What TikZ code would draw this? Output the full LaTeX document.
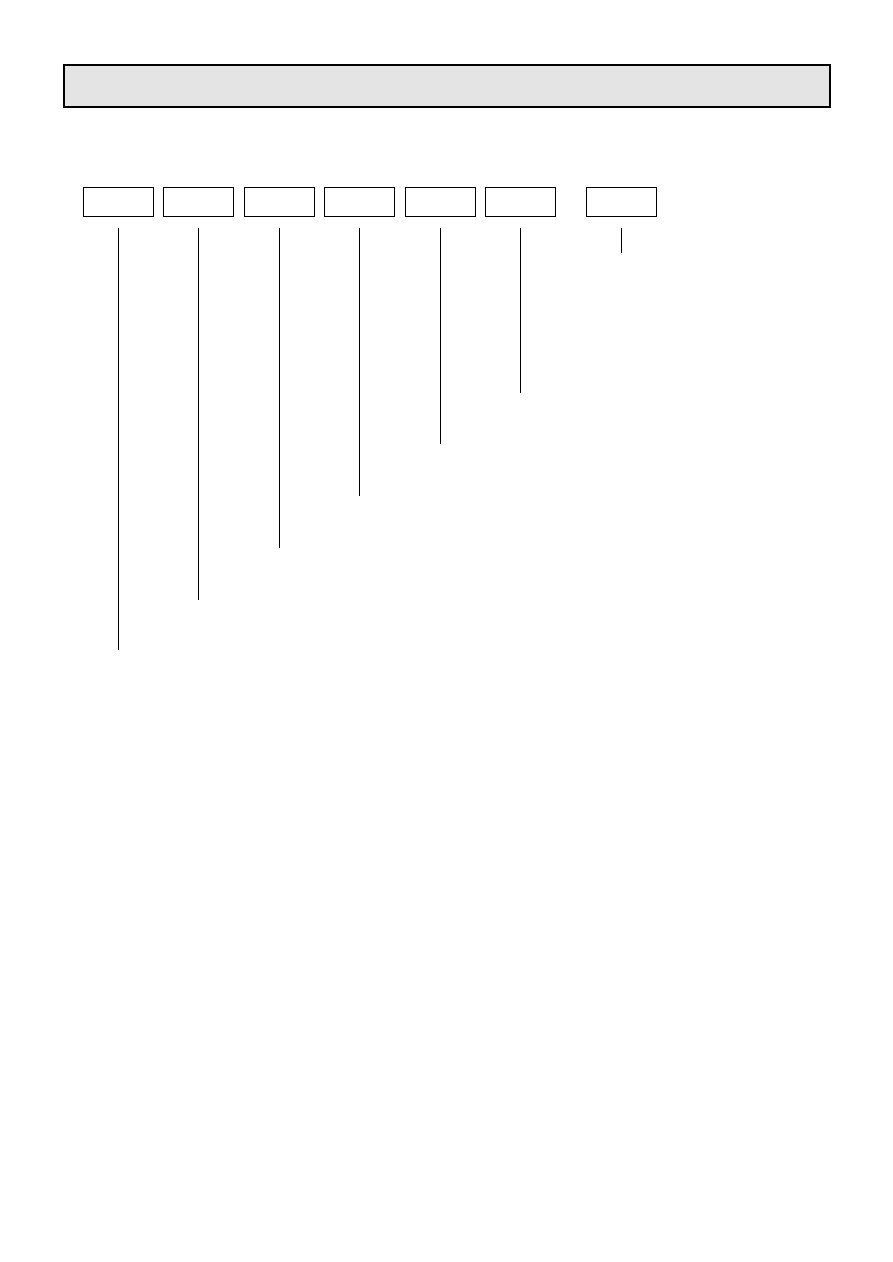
\documentclass[tikz,border=0pt]{standalone}
\usepackage{tikz}
\usetikzlibrary{positioning}
\definecolor{headgray}{RGB}{228,228,228}

\begin{document}
\begin{tikzpicture}[node distance=80.5pt,on grid,
		header/.style={rectangle,draw=black,fill=headgray,line width=1.2pt,minimum width=766pt,minimum height=42pt},
		field/.style={rectangle,draw=black,line width=1pt,minimum width=70pt,minimum height=29pt},
		lead/.style={draw=black,line width=1pt}]
		\useasboundingbox (0,0) rectangle (893pt,-1262pt);
		\node[header] (title) at (447pt,-86pt) {};
		
		\node[field]  (b1)     at (118pt,-201.5pt)  {};
		\node[field]  (b2)     [right=of b1]        {};
		\node[field]  (b3)     [right=of b2]        {};
		\node[field]  (b4)     [right=of b3]        {};
		\node[field]  (b5)     [right=of b4]        {};
		\node[field]  (b6)     [right=of b5]        {};
		\node[field]  (b7)     [right=101pt of b6]  {};
		
		\coordinate[below=26.5pt of b1] (t1);  \coordinate[below=448.5pt of b1] (e1);
		\coordinate[below=26.5pt of b2] (t2);  \coordinate[below=398.5pt of b2] (e2);
		\coordinate[below=26.5pt of b3] (t3);  \coordinate[below=346.5pt of b3] (e3);
		\coordinate[below=26.5pt of b4] (t4);  \coordinate[below=294.5pt of b4] (e4);
		\coordinate[below=26.5pt of b5] (t5);  \coordinate[below=242.5pt of b5] (e5);
		\coordinate[below=26.5pt of b6] (t6);  \coordinate[below=191.5pt of b6] (e6);
		\coordinate[below=26.5pt of b7] (t7);  \coordinate[below=51.5pt of b7]  (e7);
		
		\path[lead]
		(t1) edge (e1)
		(t2) edge (e2)
		(t3) edge (e3)
		(t4) edge (e4)
		(t5) edge (e5)
		(t6) edge (e6)
		(t7) edge (e7);
\end{tikzpicture}
\end{document}
